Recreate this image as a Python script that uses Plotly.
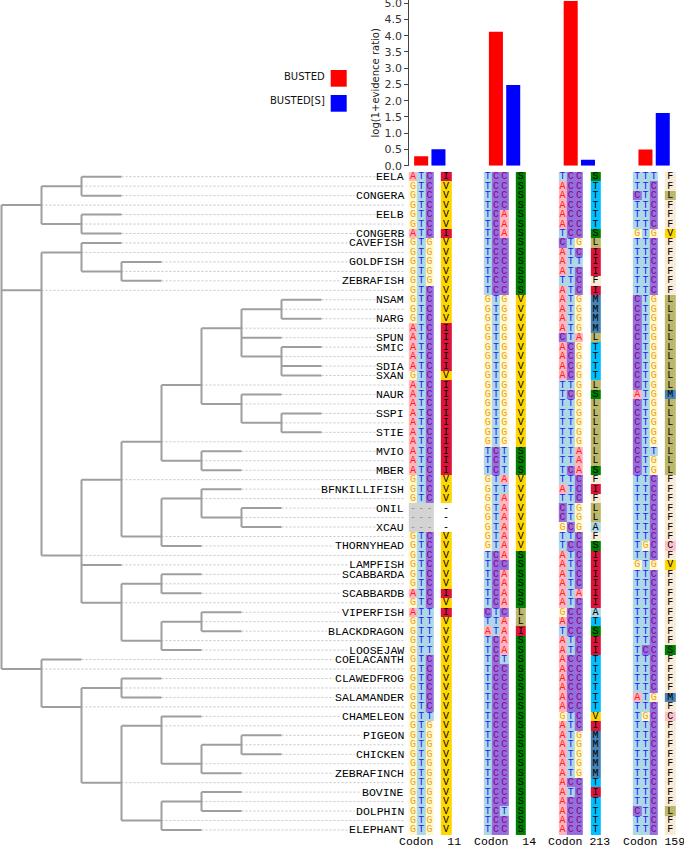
import plotly.graph_objects as go

W, H = 684, 846

# ---------------- data ----------------
TREE = [
    [["EELA", "CONGERA"], ["EELB", "CONGERB"]],
    [["CAVEFISH", ["GOLDFISH", "ZEBRAFISH"]],
     [
         [
             [
                 [[["NSAM", "NARG"], "SPUN", ["SMIC", "SDIA", "SXAN"]],
                  ["NAUR", ["SSPI", "STIE"]]],
                 ["MVIO", "MBER"]
             ],
             [["BFNKILLIFISH", ["ONIL", "XCAU"]], "THORNYHEAD"]
         ],
         "LAMPFISH",
         [["SCABBARDA", "SCABBARDB"],
          [["VIPERFISH", "BLACKDRAGON"], "LOOSEJAW"]]
     ]],
    ["COELACANTH",
     [["CLAWEDFROG", "SALAMANDER"],
      [["CHAMELEON", [["PIGEON", "CHICKEN"], "ZEBRAFINCH"]],
       [["BOVINE", "DOLPHIN"], "ELEPHANT"]]]]
]

SITES = ["Codon\u00a0\u00a011", "Codon\u00a0\u00a014", "Codon\u00a0213", "Codon\u00a0159"]
BUSTED = [0.29, 4.12, 5.07, 0.50]
BUSTED_S = [0.51, 2.48, 0.18, 1.62]

CODON_11 = ("ATC GTC GTC GTC GTC GTC ATC GTG GTG GTG "
            "GTG GTG GTC GTC GTC GTC ATC ATC ATC ATC "
            "ATC GTC ATC ATC ATC ATC ATC ATC ATC ATC "
            "ATC ATC GTC GTC GTC --- --- --- GTC GTC "
            "GTC GTC GTC GTC ATC GTC ATT GTT GTT GTT "
            "GTT GTC GTC GTC GTC GTC GTC GTT GTG GTG "
            "GTG GTG GTG GTG GTG GTG GTG GTG GTG GTG").split()
AA_11 = ("IVVVVVIVVV" "VVVVVVIIII" "IVIIIIIIII" "IIVVV---VV"
         "VVVVIVIVVV" "VVVVVVVVVV" "VVVVVVVVVV")

CODON_14 = ("TCC TCC TCC TCC TCA TCA TCA TCC TCC TCC "
            "TCC TCC TCC GTG GTG GTG GTG GTG GTG GTG "
            "GTG GTG GTG GTG GTG GTG GTG GTG GTG TCT "
            "TCT TCT GTA GTT GTA GTA GTA GTA GTA GTA "
            "TCA TCC TCA TCA TCA TCA CTC TTA ATA TCA "
            "TCA TCT TCC TCC TCC TCC TCC TCC TCC TCC "
            "TCC TCC TCC TCC TCC TCC TCC TCT TCC TCC").split()
AA_14 = ("SSSSSSSSSS" "SSSVVVVVVV" "VVVVVVVVVS" "SSVVVVVVVV"
         "SSSSSSLLIS" "SSSSSSSSSS" "SSSSSSSSSS")

CODON_213 = ("TCC ACC ACC ACC ACC ACC TCC CTG ATC ATT "
             "ATC TTC ATC ATG ATG ATG ATG CTA ACG ACG "
             "ACG ACG TTG TCG TTG TTG TTG TTG TTG TTA "
             "TTA TCA TTC ATC TTC CTG CTG GCG TTC TCC "
             "ATC ATC ATC ATC ATA ATC GCC ACC TCC ATC "
             "ATC ACC ACC ACC ACC ACC ACC GTC ATC ATG "
             "ATG ATG ATG ATG ACC ATC ACC ACC ACC ACC").split()
AA_213 = ("STTTTTSLII" "IFIMMMMLTT" "TTLSLLLLLL" "LSFIFLLAFS"
          "IIIIIIATSI" "ITTTTTTVIM" "MMMMTITTTT")

CODON_159 = ("TTT TTC CTC TTC TTC TTC GTG TTC TTC TTC "
             "TTC TTC TTC CTG CTG CTG CTG CTG CTG CTG "
             "CTG CTG CTG ATG CTG CTG CTG CTG CTG CTT "
             "CTG CTG TTC TTC TTC TTC TTC TTC TTC TGC "
             "TTC GTG TTC TTC TTC TTC TTC TTC TTC TTC "
             "TCC TTC TTC TTC TTC ATG TTC TGC TTC TTC "
             "TTC TTC TTC TTC TTC TTC TTC CTC TTC TTC").split()
AA_159 = ("FFLFFFVFFF" "FFFLLLLLLL" "LLLMLLLLLL" "LLFFFFFFFC"
          "FVFFFFFFFF" "SFFFFMFCFF" "FFFFFFFLFF")

CODONS = [CODON_11, CODON_14, CODON_213, CODON_159]
AAS = [AA_11, AA_14, AA_213, AA_159]

# ---------------- styles / layout constants ----------------
PX_DEPTH = 40.0      # pixels per tree level
TREE_X0 = 1.5        # pixel of root
ROW0_Y = 176.7       # pixel of first row
ROW_H = 9.468        # pixel per row
LABEL_RIGHT = 406.0
LABEL_FS = 11.5
GROUP_X0 = 408.8
GROUP_STEP = 74.77
NUC_W = 8.3
AA_OFF = 32.0
AA_W = 10.5
BAR_AXIS_X = 409.3
BAR_ZERO_Y = 165.7
BAR_YMAX = 5.10

NUC_BG = {"A": "#ffb6c1", "C": "#9370db", "G": "#fffacd", "T": "#add8e6", "-": "#d3d3d3"}
NUC_FG = {"A": "#ff2020", "C": "#8b008b", "G": "#f0a020", "T": "#1a1aff", "-": "#999999"}
AA_BG = {"I": "#dc143c", "V": "#ffd700", "S": "#008000", "T": "#00bfff", "F": "#faebd7",
         "L": "#bdb76b", "M": "#4682b4", "A": "#add8e6", "C": "#ffc0cb", "-": "#ffffff"}

# ---------------- tree layout ----------------
rows = []
seg_x, seg_y = [], []


def place(node, depth):
    if isinstance(node, str):
        rows.append((node, depth))
        return len(rows) - 1
    kids, me = [], None
    for i, ch in enumerate(node):
        kids.append(place(ch, depth + 1))
        if i == 0 and depth > 0:
            rows.append((None, depth))
            me = len(rows) - 1
    for k in kids:
        seg_x.extend([depth, depth + 1, None])
        seg_y.extend([k, k, None])
    seg_x.extend([depth, depth, None])
    seg_y.extend([min(kids), max(kids), None])
    return me


place(TREE, 0)
NROW = len(rows)

label_x = (LABEL_RIGHT - TREE_X0) / PX_DEPTH
dot_x, dot_y = [], []
for r, (name, d) in enumerate(rows):
    if name is None:
        end = label_x - 1.0 / PX_DEPTH
    else:
        end = label_x - (len(name) * 0.6 * LABEL_FS + 3.0) / PX_DEPTH
    dot_x.extend([d, end, None])
    dot_y.extend([r, r, None])

fig = go.Figure()
fig.add_trace(go.Scatter(x=dot_x, y=dot_y, mode="lines", xaxis="x", yaxis="y",
                         line=dict(color="#c4c4c4", width=1, dash="2px,2px"),
                         hoverinfo="skip"))
fig.add_trace(go.Scatter(x=seg_x, y=seg_y, mode="lines", xaxis="x", yaxis="y",
                         line=dict(color="#9e9e9e", width=2), hoverinfo="skip"))

# ---------------- alignment ----------------
cats = [("n", k) for k in NUC_BG] + [("p", k) for k in AA_BG]
colors = [NUC_BG[k] for k in NUC_BG] + [AA_BG[k] for k in AA_BG]
NC = len(cats)
cidx = {c: i for i, c in enumerate(cats)}
cscale = []
for i, c in enumerate(colors):
    cscale.append([i / NC, c])
    cscale.append([(i + 1) / NC, c])

x_edges = []
col_kind = []  # (group, j) j=0..2 nuc, 3 aa, None gap
for g in range(len(CODONS)):
    s = GROUP_X0 + g * GROUP_STEP
    if g > 0:
        col_kind.append(None)
    x_edges.extend([s, s + NUC_W, s + 2 * NUC_W, s + 3 * NUC_W, s + AA_OFF, s + AA_OFF + AA_W])
    col_kind.extend([(g, 0), (g, 1), (g, 2), None, (g, 3)])

z = []
tx, ty, tt, tc = [], [], [], []
for r in range(NROW):
    zr = []
    for ci, kind in enumerate(col_kind):
        if kind is None:
            zr.append(None)
            continue
        g, j = kind
        xc = (x_edges[ci] + x_edges[ci + 1]) / 2
        if j < 3:
            ch = CODONS[g][r][j]
            zr.append(cidx[("n", ch)])
            tc.append(NUC_FG[ch])
        else:
            ch = AAS[g][r]
            zr.append(cidx[("p", ch)])
            tc.append("#000000")
        tx.append(xc)
        ty.append(r)
        tt.append(ch)
    z.append(zr)

fig.add_trace(go.Heatmap(z=z, x=x_edges, y=[r - 0.5 for r in range(NROW + 1)],
                         xaxis="x2", yaxis="y", colorscale=cscale,
                         zmin=-0.5, zmax=NC - 0.5, showscale=False, hoverinfo="skip"))
fig.add_trace(go.Scatter(x=tx, y=ty, text=tt, mode="text", xaxis="x2", yaxis="y",
                         textfont=dict(family="Liberation Mono", size=10, color=tc),
                         hoverinfo="skip"))

# ---------------- bars ----------------
xs = list(range(len(SITES)))
fig.add_trace(go.Bar(x=xs, y=BUSTED, name="BUSTED", marker=dict(color="#ff0000", line=dict(width=0)),
                     xaxis="x3", yaxis="y3", hoverinfo="skip", cliponaxis=False))
fig.add_trace(go.Bar(x=xs, y=BUSTED_S, name="BUSTED[S]", marker=dict(color="#0000ff", line=dict(width=0)),
                     xaxis="x3", yaxis="y3", hoverinfo="skip", cliponaxis=False))

annotations = []
for r, (name, d) in enumerate(rows):
    if name is not None:
        annotations.append(dict(x=label_x, y=r, xref="x", yref="y", text=name, showarrow=False,
                                xanchor="right", yanchor="middle",
                                font=dict(family="Liberation Mono", size=LABEL_FS, color="#000")))
for i, s in enumerate(SITES):
    annotations.append(dict(x=i, y=841, xref="x3", yref="y2", text=s, showarrow=False,
                            xanchor="center", yanchor="middle",
                            font=dict(family="Liberation Mono", size=LABEL_FS, color="#000")))
annotations.append(dict(x=375, y=83.5, xref="x2", yref="y2", text="log(1+evidence ratio)",
                        textangle=-90, showarrow=False, xanchor="center", yanchor="middle",
                        font=dict(family="DejaVu Sans", size=10, color="#222")))
annotations.append(dict(x=327, y=76, xref="x2", yref="y2", text="BUSTED", showarrow=False,
                        xanchor="right", yanchor="middle",
                        font=dict(family="DejaVu Sans", size=10, color="#111")))
annotations.append(dict(x=327, y=100.5, xref="x2", yref="y2", text="BUSTED[S]", showarrow=False,
                        xanchor="right", yanchor="middle",
                        font=dict(family="DejaVu Sans", size=10, color="#111")))

shapes = [
    dict(type="rect", xref="x2", yref="y2", x0=330.7, x1=346.7, y0=70, y1=86.7,
         fillcolor="#ff0000", line=dict(width=0)),
    dict(type="rect", xref="x2", yref="y2", x0=330.7, x1=346.7, y0=95, y1=111.7,
         fillcolor="#0000ff", line=dict(width=0)),
]

bar_c0 = GROUP_X0 + 21.0
x3_lo = -(bar_c0 - BAR_AXIS_X) / GROUP_STEP
x3_hi = x3_lo + (W - BAR_AXIS_X) / GROUP_STEP

hidden = dict(visible=False, fixedrange=True, automargin=False)
fig.update_layout(
    width=W, height=H, margin=dict(l=0, r=0, t=0, b=0, pad=0, autoexpand=False),
    paper_bgcolor="white", plot_bgcolor="rgba(0,0,0,0)", showlegend=False,
    barmode="group", bargap=0.537, bargroupgap=0.19,
    xaxis=dict(domain=[0, 1], range=[-TREE_X0 / PX_DEPTH, (W - TREE_X0) / PX_DEPTH], **hidden),
    yaxis=dict(domain=[0, 1], range=[(H - ROW0_Y) / ROW_H, -ROW0_Y / ROW_H], **hidden),
    xaxis2=dict(range=[0, W], overlaying="x", **hidden),
    yaxis2=dict(range=[H, 0], overlaying="y", **hidden),
    xaxis3=dict(domain=[BAR_AXIS_X / W, 1], range=[x3_lo, x3_hi], anchor="y3", **hidden),
    yaxis3=dict(domain=[1 - BAR_ZERO_Y / H, 1], range=[0, BAR_YMAX], anchor="x3",
                showline=True, linecolor="#444", linewidth=1, ticks="outside", ticklen=4,
                tickcolor="#444", tick0=0, dtick=0.5, tickformat=".1f", showgrid=False,
                zeroline=False, fixedrange=True, automargin=False, ticklabeloverflow="allow",
                tickfont=dict(family="DejaVu Sans", size=11, color="#333")),
    annotations=annotations, shapes=shapes,
)

# remove the default 8px page margin so the figure fills the window exactly
fig.write_html("out.html", config={"displayModeBar": False},
               post_script="document.body.style.margin='0px';")
